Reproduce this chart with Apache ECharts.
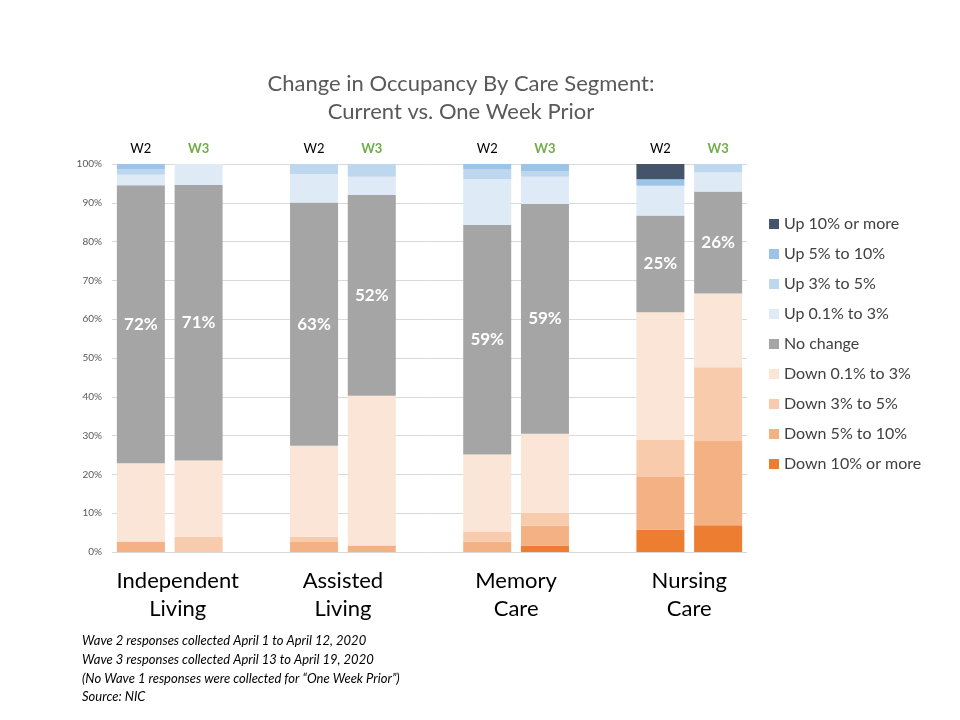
<!DOCTYPE html>
<html>
<head>
<meta charset="utf-8">
<script src="https://cdn.jsdelivr.net/npm/echarts@6/dist/echarts.min.js"></script>
<style>
  html, body { margin: 0; padding: 0; background: #fff; }
  #chart { width: 960px; height: 720px; }
</style>
</head>
<body>
<div id="chart"></div>
<script>
// bars left to right: IL W2, IL W3, AL W2, AL W3, MC W2, MC W3, NC W2, NC W3
const waves = ['W2', 'W3', 'W2', 'W3', 'W2', 'W3', 'W2', 'W3'];
const segments = ['Independent\nLiving', 'Assisted\nLiving', 'Memory\nCare', 'Nursing\nCare'];
const yTicks = [0, 10, 20, 30, 40, 50, 60, 70, 80, 90, 100];

const down10 = [0, 0, 0, 0, 0, 1.7, 5.8, 6.9];
const down5to10 = [2.7, 0, 2.6, 1.7, 2.7, 5.1, 13.5, 21.7];
const down3to5 = [0, 3.9, 1.3, 0, 2.6, 3.3, 9.7, 19.0];
const down01to3 = [20.2, 19.7, 23.5, 38.6, 19.8, 20.4, 32.8, 19.0];
const noChange = [71.6, 71.0, 62.7, 51.7, 59.2, 59.2, 24.9, 26.3];
const up01to3 = [2.7, 5.4, 7.3, 4.7, 11.8, 7.0, 7.7, 4.9];
const up3to5 = [1.5, 0, 2.6, 3.3, 2.6, 1.5, 0, 2.2];
const up5to10 = [1.3, 0, 0, 0, 1.3, 1.8, 1.7, 0];
const up10 = [0, 0, 0, 0, 0, 0, 3.9, 0];

const footnotes = [
  'Wave 2 responses collected April 1 to April 12, 2020',
  'Wave 3 responses collected April 13 to April 19, 2020',
  '(No Wave 1 responses were collected for \u201cOne Week Prior\u201d)',
  'Source: NIC'
];

// bottom of stack first
const stack = [
  { name: 'Down 10% or more', data: down10, color: '#ed7d31' },
  { name: 'Down 5% to 10%', data: down5to10, color: '#f4b183' },
  { name: 'Down 3% to 5%', data: down3to5, color: '#f8cbad' },
  { name: 'Down 0.1% to 3%', data: down01to3, color: '#fbe5d6' },
  { name: 'No change', data: noChange, color: '#a5a5a5' },
  { name: 'Up 0.1% to 3%', data: up01to3, color: '#deebf7' },
  { name: 'Up 3% to 5%', data: up3to5, color: '#bdd7ee' },
  { name: 'Up 5% to 10%', data: up5to10, color: '#9dc3e6' },
  { name: 'Up 10% or more', data: up10, color: '#44546a' }
];

const FONT = 'Lato, "Open Sans", sans-serif';

// an empty category between each pair of bars
const categories = [];
waves.forEach((w, i) => {
  categories.push(w);
  if (i % 2 === 1 && i < waves.length - 1) categories.push('');
});
const spread = (arr) => {
  const out = [];
  arr.forEach((v, i) => {
    out.push(v === 0 ? null : v);
    if (i % 2 === 1 && i < arr.length - 1) out.push(null);
  });
  return out;
};

const chart = echarts.init(document.getElementById('chart'));

chart.setOption({
  animation: false,
  backgroundColor: '#fff',
  grid: { left: 112, right: 213, top: 164, bottom: 168, containLabel: false },
  legend: {
    orient: 'vertical',
    left: 764,
    top: 210,
    icon: 'rect',
    itemWidth: 10,
    itemHeight: 10,
    itemGap: 12,
    selectedMode: false,
    data: stack.map(s => s.name).reverse(),
    textStyle: { fontFamily: FONT, fontSize: 16, color: '#404040', lineHeight: 18 }
  },
  xAxis: {
    type: 'category',
    position: 'top',
    data: categories,
    axisLine: { show: false },
    axisTick: { show: false },
    axisLabel: {
      margin: 9,
      interval: 0,
      formatter: v => v === 'W2' ? '{w2|W2}' : v === 'W3' ? '{w3|W3}' : '',
      rich: {
        w2: { fontFamily: FONT, fontSize: 13, color: '#000' },
        w3: { fontFamily: FONT, fontSize: 13, color: '#70ad47', fontWeight: 'bold' }
      }
    }
  },
  yAxis: {
    type: 'value',
    min: yTicks[0],
    max: yTicks[yTicks.length - 1],
    interval: yTicks[1] - yTicks[0],
    axisLine: { show: false },
    axisTick: { show: false },
    axisLabel: { formatter: '{value}%', fontFamily: FONT, fontSize: 10, color: '#595959', margin: 10 },
    splitLine: { lineStyle: { color: '#d9d9d9', width: 1 } }
  },
  series: stack.map(s => ({
    name: s.name,
    type: 'bar',
    stack: 'total',
    barWidth: 48,
    data: spread(s.data),
    itemStyle: { color: s.color },
    label: s.name === 'No change' ? {
      show: true,
      position: 'inside',
      formatter: p => Math.round(p.value) + '%',
      fontFamily: FONT,
      fontSize: 17,
      fontWeight: 'bold',
      color: '#fff'
    } : { show: false }
  }))
});

// text around the plot: title, segment names under each bar pair, notes
const groupText = segments.map((name, i) => {
  const idx = i * 3;
  const a = chart.convertToPixel({ xAxisIndex: 0 }, idx);
  const b = chart.convertToPixel({ xAxisIndex: 0 }, idx + 1);
  return {
    type: 'text',
    x: (a + b) / 2 + (i === 0 ? 8 : 0),
    y: 595,
    style: {
      text: name, align: 'center', verticalAlign: 'middle', textAlign: 'center', textVerticalAlign: 'middle',
      fontFamily: FONT, fontSize: 22, lineHeight: 28, fill: '#000'
    }
  };
});

const noteText = footnotes.map((t, i) => ({
  type: 'text',
  x: 82,
  y: 641 + i * 18.7,
  style: {
    text: t, align: 'left', verticalAlign: 'middle', textAlign: 'left', textVerticalAlign: 'middle',
    fontFamily: FONT, fontSize: 13, fontStyle: 'italic', fill: '#000'
  }
}));

chart.setOption({
  graphic: [
    {
      type: 'text',
      x: 461,
      y: 98,
      style: {
        text: 'Change in Occupancy By Care Segment:\nCurrent vs. One Week Prior',
        align: 'center', verticalAlign: 'middle', textAlign: 'center', textVerticalAlign: 'middle',
        fontFamily: FONT, fontSize: 22, lineHeight: 28, fill: '#595959'
      }
    }
  ].concat(groupText, noteText)
});
</script>
</body>
</html>
